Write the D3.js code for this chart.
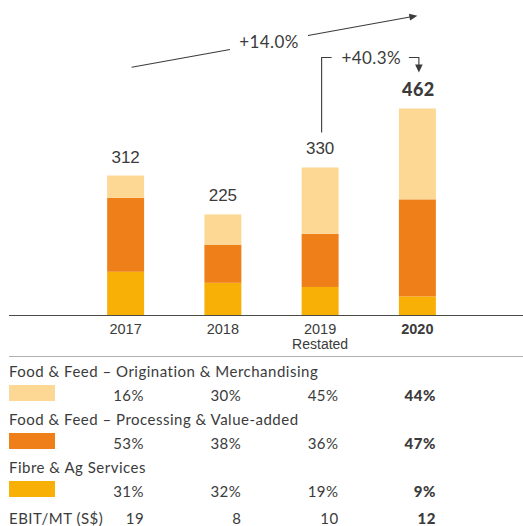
<!DOCTYPE html>
<html>
<head>
<meta charset="utf-8">
<script src="https://cdn.jsdelivr.net/npm/d3@7/dist/d3.min.js"></script>
<style>
  html, body { margin: 0; padding: 0; background: #fff; }
  svg { display: block; }
</style>
</head>
<body>
<svg id="chart" width="523" height="526"></svg>
<script>
// EBIT by segment, S$ million
const years = ["2017", "2018", "2019", "2020"];
const yearSubLabels = ["", "", "Restated", ""];
const totals = [312, 225, 330, 462];
// share of EBIT per segment, %
const originationShare = [16, 30, 45, 44];
const processingShare = [53, 38, 36, 47];
const fibreShare = [31, 32, 19, 9];
const ebitPerMt = [19, 8, 10, 12];
const seriesNames = [
  "Fibre & Ag Services",
  "Food & Feed – Processing & Value-added",
  "Food & Feed – Origination & Merchandising"
];
const growthLabels = ["+14.0%", "+40.3%"];

const colors = {
  "Food & Feed – Origination & Merchandising": "#FDD794",
  "Food & Feed – Processing & Value-added": "#EF8019",
  "Fibre & Ag Services": "#F8AF06"
};
const textColor = "#3b3b3b";
const geoFont = "Lato, 'Noto Sans', sans-serif";
const sansFont = "'Liberation Sans', Arial, sans-serif";
const tableSpacing = 0.5;

const svg = d3.select("#chart");

const x = d3.scaleBand()
  .domain(years)
  .range([77, 466])
  .paddingInner(0.62)
  .paddingOuter(0.31);

const y = d3.scaleLinear().domain([0, 500]).range([315, 91.5]);

// segment values derived from totals and shares
const rows = years.map((yr, i) => ({
  year: yr,
  "Fibre & Ag Services": totals[i] * fibreShare[i] / 100,
  "Food & Feed – Processing & Value-added": totals[i] * processingShare[i] / 100,
  "Food & Feed – Origination & Merchandising": totals[i] * originationShare[i] / 100
}));

const stacked = d3.stack().keys(seriesNames)(rows);

svg.append("g").selectAll("g")
  .data(stacked)
  .join("g")
  .attr("fill", d => colors[d.key])
  .selectAll("rect")
  .data(d => d)
  .join("rect")
  .attr("x", d => x(d.data.year))
  .attr("width", x.bandwidth())
  .attr("y", d => y(d[1]))
  .attr("height", d => y(d[0]) - y(d[1]));

// total labels
svg.append("g").selectAll("text")
  .data(years)
  .join("text")
  .attr("x", (d, i) => x(d) + x.bandwidth() / 2 + (i === 3 ? 1 : 0))
  .attr("y", (d, i) => y(totals[i]) - (i === 3 ? 12 : 13))
  .attr("text-anchor", "middle")
  .attr("font-family", (d, i) => i === 3 ? geoFont : sansFont)
  .attr("font-weight", (d, i) => i === 3 ? 900 : 400)
  .attr("font-size", (d, i) => i === 3 ? 18 : 17)
  .attr("letter-spacing", (d, i) => i === 3 ? 0.5 : 0)
  .attr("fill", textColor)
  .text((d, i) => totals[i]);

// baseline axis
svg.append("line")
  .attr("x1", 9).attr("x2", 523)
  .attr("y1", y(0) + 0.5).attr("y2", y(0) + 0.5)
  .attr("stroke", "#4a4a4a").attr("stroke-width", 1.2);

const xAxis = svg.append("g");
xAxis.selectAll("text.yr")
  .data(years)
  .join("text")
  .attr("class", "yr")
  .attr("x", d => x(d) + x.bandwidth() / 2)
  .attr("y", 334)
  .attr("text-anchor", "middle")
  .attr("font-family", sansFont)
  .attr("font-size", 14.5)
  .attr("font-weight", (d, i) => i === 3 ? 700 : 400)
  .attr("fill", textColor)
  .text(d => d);
xAxis.selectAll("text.sub")
  .data(years.filter((d, i) => yearSubLabels[i]))
  .join("text")
  .attr("class", "sub")
  .attr("x", d => x(d) + x.bandwidth() / 2)
  .attr("y", 349)
  .attr("text-anchor", "middle")
  .attr("font-family", sansFont)
  .attr("font-size", 14)
  .attr("fill", textColor)
  .text(d => yearSubLabels[years.indexOf(d)]);

// table separator
svg.append("line")
  .attr("x1", 9).attr("x2", 523)
  .attr("y1", 356.5).attr("y2", 356.5)
  .attr("stroke", "#b0b0b0").attr("stroke-width", 1);

// legend / share table
const tableRows = [
  { name: seriesNames[2], shares: originationShare, top: 376.5 },
  { name: seriesNames[1], shares: processingShare, top: 424.5 },
  { name: seriesNames[0], shares: fibreShare, top: 472.5 }
];
tableRows.forEach(r => {
  const g = svg.append("g");
  g.append("text")
    .attr("x", 9).attr("y", r.top)
    .attr("font-family", geoFont).attr("font-size", 15)
    .attr("letter-spacing", tableSpacing)
    .attr("fill", textColor)
    .text(r.name);
  g.append("rect")
    .attr("x", 9).attr("y", r.top + 8.5)
    .attr("width", 46).attr("height", 16)
    .attr("fill", colors[r.name]);
  g.selectAll("text.v")
    .data(years)
    .join("text")
    .attr("class", "v")
    .attr("x", d => x(d) + x.bandwidth())
    .attr("y", r.top + 24)
    .attr("text-anchor", "end")
    .attr("font-family", geoFont).attr("font-size", 15)
    .attr("letter-spacing", tableSpacing)
    .attr("font-weight", (d, i) => i === 3 ? 900 : 400)
    .attr("fill", textColor)
    .text((d, i) => r.shares[i] + "%");
});

// EBIT per tonne row
const ebitRow = svg.append("g");
ebitRow.append("text")
  .attr("x", 9).attr("y", 524)
  .attr("font-family", geoFont).attr("font-size", 15)
  .attr("letter-spacing", tableSpacing)
  .attr("fill", textColor)
  .text("EBIT/MT (S$)");
ebitRow.selectAll("text.v")
  .data(years)
  .join("text")
  .attr("class", "v")
  .attr("x", d => x(d) + x.bandwidth())
  .attr("y", 524)
  .attr("text-anchor", "end")
  .attr("font-family", geoFont).attr("font-size", 15)
  .attr("letter-spacing", tableSpacing)
  .attr("font-weight", (d, i) => i === 3 ? 900 : 400)
  .attr("fill", textColor)
  .text((d, i) => ebitPerMt[i]);

// growth annotations
const ann = svg.append("g")
  .attr("stroke", "#3b3b3b").attr("stroke-width", 1.1).attr("fill", "none");
const c = yr => x(yr) + x.bandwidth() / 2;

// CAGR arrow 2017 -> 2020
const x0 = c("2017") + 6, y0 = 67.3;
const x1 = c("2020"), y1 = 15.7;
const slope = (y1 - y0) / (x1 - x0);
ann.append("line").attr("x1", x0).attr("y1", y0)
  .attr("x2", 230).attr("y2", y0 + slope * (230 - x0));
ann.append("line").attr("x1", 308).attr("y1", y0 + slope * (308 - x0))
  .attr("x2", x1 - 6).attr("y2", y1 - slope * 6);
svg.append("path")
  .attr("d", (() => {
    const ang = Math.atan2(y1 - y0, x1 - x0);
    const L = 8, W = 3.5;
    const bx = x1 - L * Math.cos(ang), by = y1 - L * Math.sin(ang);
    const px = -Math.sin(ang) * W, py = Math.cos(ang) * W;
    return `M${x1},${y1}L${bx + px},${by + py}L${bx - px},${by - py}Z`;
  })())
  .attr("fill", "#3b3b3b");
svg.append("text")
  .attr("x", 269).attr("y", 48)
  .attr("text-anchor", "middle")
  .attr("font-family", geoFont).attr("font-size", 17)
  .attr("letter-spacing", 0.4)
  .attr("fill", textColor)
  .text(growthLabels[0]);

// year-on-year bracket 2019 -> 2020
const bx0 = c("2019") + 1.5, bx1 = c("2020") + 1.5, by = 57.5;
ann.append("path")
  .attr("d", `M${bx0},${y(totals[2]) - 35}V${by}H${bx0 + 10}`);
ann.append("path")
  .attr("d", `M${bx1 - 10},${by}H${bx1}V${by + 9}`);
svg.append("path")
  .attr("d", `M${bx1},${by + 15}L${bx1 - 3.8},${by + 7}L${bx1 + 3.8},${by + 7}Z`)
  .attr("fill", "#3b3b3b");
svg.append("text")
  .attr("x", (bx0 + bx1) / 2 + 1).attr("y", 63.5)
  .attr("text-anchor", "middle")
  .attr("font-family", geoFont).attr("font-size", 17)
  .attr("letter-spacing", 0.4)
  .attr("fill", textColor)
  .text(growthLabels[1]);
</script>
</body>
</html>
